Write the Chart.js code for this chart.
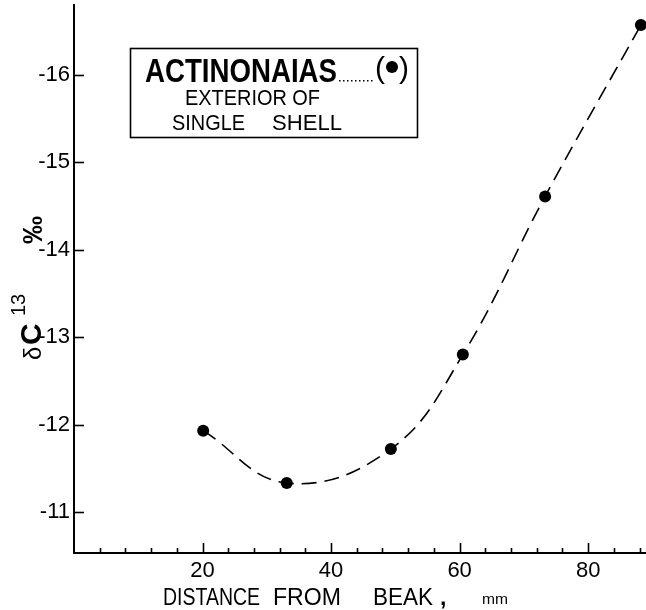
<!DOCTYPE html>
<html>
<head>
<meta charset="utf-8">
<script src="https://cdn.jsdelivr.net/npm/chart.js@4/dist/chart.umd.min.js"></script>
<style>
html,body{margin:0;padding:0;background:#fff;}
#wrap{width:646px;height:610px;position:relative;}
</style>
</head>
<body>
<div id="wrap"><canvas id="c"></canvas></div>
<script>
// ---- data ----
const distanceMm = [20.1, 33.1, 49.3, 60.5, 73.3, 88.2];
const delta13C   = [-11.93, -11.33, -11.72, -12.80, -14.61, -16.57];
const xTickLabels = [20, 40, 60, 80];
const yTickLabels = [-16, -15, -14, -13, -12, -11];
const xMinorStep = 4;
const legendTitle = 'ACTINONAIAS';
const legendLine2 = 'EXTERIOR OF';
const legendLine3a = 'SINGLE';
const legendLine3b = 'SHELL';

const FONT = '"Liberation Sans", Arial, sans-serif';

function fitText(ctx, str, x, y, size, weight, targetW) {
  ctx.save();
  ctx.font = weight + ' ' + size + 'px ' + FONT;
  const w = ctx.measureText(str).width;
  const sx = targetW ? targetW / w : 1;
  ctx.translate(x, y);
  ctx.scale(sx, 1);
  ctx.fillText(str, 0, 0);
  ctx.restore();
}

const decorPlugin = {
  id: 'decor',
  afterDraw(chart) {
    const ctx = chart.ctx;
    const xs = chart.scales.x, ys = chart.scales.y;
    const area = chart.chartArea;
    ctx.save();
    ctx.strokeStyle = '#000';
    ctx.fillStyle = '#000';
    ctx.lineWidth = 1.6;
    // inward y ticks
    yTickLabels.forEach(v => {
      const py = Math.round(ys.getPixelForValue(v)) + 0.5;
      ctx.beginPath();
      ctx.moveTo(area.left, py);
      ctx.lineTo(area.left + 10, py);
      ctx.stroke();
    });
    // inward x ticks (minor every 4, major every 20)
    for (let v = xMinorStep; v <= xs.max; v += xMinorStep) {
      const px = Math.round(xs.getPixelForValue(v)) + 0.5;
      const len = xTickLabels.includes(v) ? 10 : 5;
      ctx.beginPath();
      ctx.moveTo(px, area.bottom);
      ctx.lineTo(px, area.bottom - len);
      ctx.stroke();
    }
    ctx.textBaseline = 'alphabetic';
    ctx.textAlign = 'left';
    // x axis title
    fitText(ctx, 'DISTANCE', 163, 605, 23, 'normal', 97);
    fitText(ctx, 'FROM', 273, 605, 23, 'normal', 68);
    fitText(ctx, 'BEAK', 373, 605, 23, 'normal', 60);
    fitText(ctx, ',', 440, 605, 23, 'bold', 0);
    fitText(ctx, 'mm', 482, 604, 15, 'normal', 26);

    // y axis title (rotated)
    ctx.save();
    ctx.translate(41, 0);
    ctx.rotate(-Math.PI / 2);
    ctx.font = 'normal 24px ' + FONT;
    ctx.fillText('δ', -360, 0);
    ctx.font = 'bold 30px ' + FONT;
    ctx.fillText('C', -345, 0);
    ctx.font = 'normal 20px ' + FONT;
    ctx.fillText('13', -316, -16);
    ctx.font = 'bold 28px ' + FONT;
    ctx.fillText('‰', -244, 1);
    ctx.restore();

    // legend box
    ctx.lineWidth = 1.6;
    ctx.strokeRect(130.5, 48.5, 287, 89);
    fitText(ctx, legendTitle, 145, 82, 33, 'bold', 192);
    // dotted leader
    for (let dx = 339; dx < 375; dx += 4) {
      ctx.fillRect(dx, 80, 1.5, 1.5);
    }
    fitText(ctx, '(', 375, 78, 30, 'normal', 0);
    fitText(ctx, ')', 399, 78, 30, 'normal', 0);
    ctx.beginPath();
    ctx.arc(392, 67, 6, 0, Math.PI * 2);
    ctx.fill();
    fitText(ctx, legendLine2, 185, 105, 22, 'normal', 135);
    fitText(ctx, legendLine3a, 172, 130, 22, 'normal', 73);
    fitText(ctx, legendLine3b, 272, 130, 22, 'normal', 70);
    ctx.restore();
  }
};

new Chart(document.getElementById('c'), {
  type: 'line',
  data: {
    datasets: [{
      data: distanceMm.map((x, i) => ({ x: x, y: delta13C[i] })),
      borderColor: '#000',
      borderWidth: 1.6,
      borderDash: [15, 8],
      tension: 0.4,
      pointRadius: 6,
      pointHoverRadius: 6,
      pointBackgroundColor: '#000',
      pointBorderWidth: 0,
      fill: false,
      clip: false
    }]
  },
  options: {
    responsive: true,
    maintainAspectRatio: false,
    animation: false,
    devicePixelRatio: 1,
    layout: { autoPadding: false, padding: { top: 5, right: 0, left: 0, bottom: 0 } },
    plugins: { legend: { display: false }, tooltip: { enabled: false } },
    scales: {
      x: {
        type: 'linear',
        min: 0,
        max: 89,
        grid: { display: false, drawTicks: false },
        border: { display: true, color: '#000', width: 2 },
        ticks: {
          stepSize: xMinorStep,
          autoSkip: false,
          maxRotation: 0,
          padding: 5,
          color: '#000',
          font: { family: FONT, size: 22 },
          callback: v => xTickLabels.includes(v) ? String(v) : ''
        },
        afterFit: s => { s.height = 57; s.paddingLeft = 0; s.paddingRight = 0; }
      },
      y: {
        type: 'linear',
        reverse: true,
        min: -16.8,
        max: -10.53,
        grid: { display: false, drawTicks: false },
        border: { display: true, color: '#000', width: 2 },
        ticks: {
          stepSize: 1,
          autoSkip: false,
          padding: 4,
          color: '#000',
          font: { family: FONT, size: 22 },
          callback: v => yTickLabels.includes(v) ? String(v) : ''
        },
        afterFit: s => { s.width = 74; s.paddingTop = 0; s.paddingBottom = 0; }
      }
    }
  },
  plugins: [decorPlugin]
});
</script>
</body>
</html>
